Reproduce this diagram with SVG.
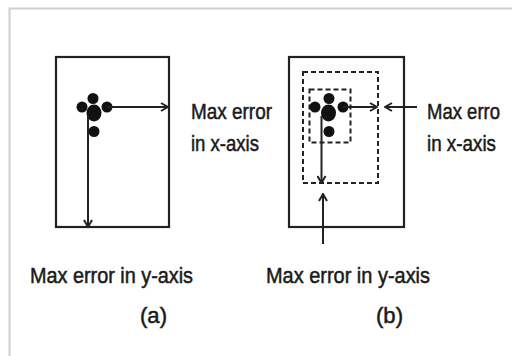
<svg xmlns="http://www.w3.org/2000/svg" width="512" height="356" viewBox="0 0 512 356">
<style>
.frame{fill:none;stroke:#222;stroke-width:2.2}
.dash{fill:none;stroke:#222;stroke-width:2;stroke-dasharray:5 3}
.ln{fill:none;stroke:#222;stroke-width:2}
.dot{fill:#111}
.t{font-family:"Liberation Sans",Arial,sans-serif;font-size:22px;fill:#1a1a1a;stroke:#1a1a1a;stroke-width:0.5}
</style>
<defs>
<marker id="ah" viewBox="0 0 10 10" refX="9" refY="5" markerWidth="10" markerHeight="10" markerUnits="userSpaceOnUse" orient="auto">
<path d="M2,1 L9,5 L2,9" fill="none" stroke="#222" stroke-width="2"/>
</marker>
</defs>
<rect width="512" height="356" fill="#fff"/>
<path d="M9.5,356 V8.5 H512" fill="none" stroke="#cfcfcf" stroke-width="2"/>
<g id="panel-a">
<rect class="frame" x="56" y="57" width="113" height="170"/>
<g id="cluster-a">
<circle class="dot" cx="82" cy="107" r="5.5"/>
<circle class="dot" cx="93" cy="98.5" r="5.5"/>
<circle class="dot" cx="107" cy="107" r="5.5"/>
<ellipse class="dot" cx="94" cy="113" rx="7.5" ry="8.5"/>
<circle class="dot" cx="94" cy="131.5" r="5.5"/>
</g>
</g>
<g id="panel-b">
<rect class="frame" x="289" y="57" width="115" height="170"/>
<rect class="dash" x="303" y="72" width="75" height="111"/>
<rect class="dash" x="309.5" y="89.5" width="41" height="53"/>
<g id="cluster-b">
<circle class="dot" cx="315" cy="107" r="5.5"/>
<circle class="dot" cx="329" cy="98.5" r="5.5"/>
<circle class="dot" cx="343" cy="107" r="5.5"/>
<ellipse class="dot" cx="328.5" cy="113" rx="7.5" ry="8.5"/>
<circle class="dot" cx="329" cy="131.5" r="5.5"/>
</g>
</g>
<g id="connectors">
<line class="ln" x1="107" y1="107" x2="168" y2="107" marker-end="url(#ah)"/>
<line class="ln" x1="88" y1="116" x2="88" y2="227" marker-end="url(#ah)"/>
<line class="ln" x1="343" y1="107" x2="377" y2="107" marker-end="url(#ah)"/>
<line class="ln" x1="321.5" y1="116" x2="321.5" y2="183" marker-end="url(#ah)"/>
<line class="ln" x1="417" y1="107" x2="385" y2="107" marker-end="url(#ah)"/>
<line class="ln" x1="323" y1="244" x2="323" y2="194" marker-end="url(#ah)"/>
</g>
<g id="labels">
<text class="t" x="191" y="119" textLength="81" lengthAdjust="spacingAndGlyphs">Max error</text>
<text class="t" x="191" y="151" textLength="68" lengthAdjust="spacingAndGlyphs">in x-axis</text>
<text class="t" x="427" y="119" textLength="73" lengthAdjust="spacingAndGlyphs">Max erro</text>
<text class="t" x="427" y="151" textLength="69" lengthAdjust="spacingAndGlyphs">in x-axis</text>
<text class="t" x="30" y="283" textLength="163" lengthAdjust="spacingAndGlyphs">Max error in y-axis</text>
<text class="t" x="266" y="283" textLength="164" lengthAdjust="spacingAndGlyphs">Max error in y-axis</text>
<text class="t" x="140" y="323" textLength="27" lengthAdjust="spacingAndGlyphs">(a)</text>
<text class="t" x="376" y="323" textLength="27" lengthAdjust="spacingAndGlyphs">(b)</text>
</g>
</svg>
